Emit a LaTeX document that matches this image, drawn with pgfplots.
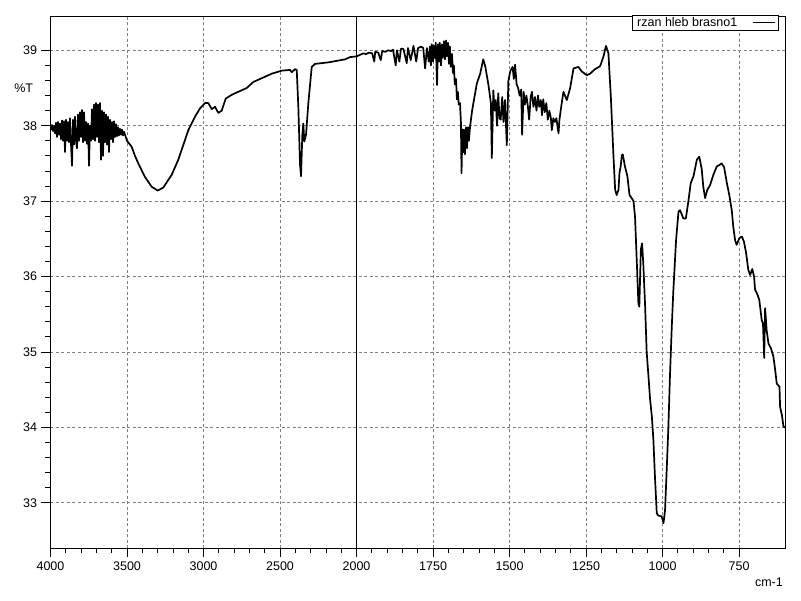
\documentclass[border=0pt]{standalone}
\usepackage{fontspec}
\setmainfont{Liberation Sans}
\usepackage{pgfplots}
\pgfplotsset{compat=1.18}
\begin{document}
\fontsize{12.5bp}{15bp}\selectfont
\begin{tikzpicture}
\useasboundingbox (-50.5bp,-53bp) rectangle (750.5bp,548bp);
\begin{axis}[
  at={(0,0)}, anchor=south west,
  scale only axis, width=734.5bp, height=532bp,
  xmin=0, xmax=2400, ymin=32.40, ymax=39.455,
  xtick={0,250,...,2250},
  xticklabels={4000,3500,3000,2500,2000,1750,1500,1250,1000,750},
  minor x tick num=4,
  ytick={33,34,...,39}, minor y tick num=4,
  tick align=outside, tick pos=left,
  major tick length=9bp, minor tick length=5bp,
  every tick/.style={black, line width=0.8bp},
  grid=major,
  major grid style={gray, line width=0.8bp, dash pattern=on 3bp off 2.5bp},
  axis line style={black, line width=0.8bp},
  /pgf/number format/assume math mode=true,
  tick label style={font=\fontsize{12.5bp}{15bp}\selectfont, black},
  xlabel={cm-1}, ylabel={\%T},
  every axis x label/.style={at={(axis description cs:1,0)}, anchor=north east, inner sep=0pt, yshift=-30bp, xshift=-2bp, font=\fontsize{12.5bp}{15bp}\selectfont},
  every axis y label/.style={at={(axis description cs:0,0.8647)}, anchor=center, xshift=-26.8bp, font=\fontsize{12.5bp}{15bp}\selectfont},
  legend plot pos=right,
  legend image code/.code={\draw[black, line width=0.8bp] (0bp,0bp) -- (22bp,0bp);},
  legend style={at={(axis description cs:1,1)}, anchor=north east, xshift=-6bp, yshift=1bp,
    draw=black, line width=0.8bp, inner xsep=3bp, inner ysep=0.5bp,
    font=\fontsize{12.5bp}{15bp}\selectfont,
    nodes={inner sep=1.5bp}, column sep=14bp},
  legend cell align=left,
]
\addplot[black, line width=0.8bp, forget plot] coordinates {(1000,32.40) (1000,39.455)};
\addplot[black, line width=1.7bp, line join=round] table {
u v
0 37.99
1.6 37.95
4.9 38.01
8.2 37.93
11.4 38.00
14.7 37.90
18.0 38.04
21.2 37.85
24.5 38.05
27.8 37.88
31.0 38.03
34.3 37.82
37.6 38.07
40.8 37.80
44.1 38.06
47.4 37.65
50.6 38.08
53.9 37.80
57.2 38.05
60.5 37.78
63.7 38.10
67.0 37.76
70.3 37.47
73.5 38.08
76.8 37.75
80.1 38.12
83.3 37.80
86.6 37.70
89.9 38.15
93.1 37.80
96.4 38.18
99.7 37.85
102.9 38.21
106.2 37.78
109.5 38.18
112.7 37.80
116.0 38.05
119.3 37.76
122.6 38.03
125.8 37.47
129.1 38.00
132.4 37.80
135.6 38.22
138.9 37.82
142.2 38.28
145.4 37.80
148.7 38.30
152.0 37.85
155.2 38.28
158.5 37.78
161.8 38.30
165.0 37.55
168.3 38.20
171.6 37.60
174.8 38.18
178.1 37.78
181.4 38.15
184.6 37.75
187.9 38.12
191.2 37.65
194.4 38.08
197.7 37.82
201.0 38.05
204.2 37.78
207.5 38.06
210.8 37.85
214.1 38.02
217.3 37.86
220.6 37.98
223.9 37.87
227.1 37.96
230.4 37.88
233.7 37.95
236.9 37.87
240.2 37.92
243.5 37.88
250.0 37.80
265.4 37.72
276.1 37.60
286.9 37.50
308.8 37.32
330.7 37.19
350.3 37.14
368.6 37.18
396.1 37.35
417.6 37.55
450.3 37.94
472.2 38.12
488.6 38.23
504.9 38.30
515.7 38.30
526.8 38.22
537.6 38.25
548.4 38.17
559.5 38.20
572.5 38.36
592.2 38.41
613.7 38.45
641.2 38.50
662.7 38.58
690.2 38.63
722.9 38.69
755.6 38.73
782.7 38.74
788.2 38.71
799.0 38.75
804.6 38.74
809.8 38.25
815.4 37.48
818.6 37.33
822.9 37.88
826.1 38.03
829.4 37.79
835.0 37.88
842.5 38.30
853.6 38.78
864.4 38.82
907.8 38.84
962.4 38.88
978.8 38.91
1000.7 38.92
1022.2 38.96
1031 38.95
1041 38.97
1051 38.96
1058 38.85
1061 38.98
1071 38.97
1079 38.87
1084 38.99
1093 38.98
1103 39.00
1113 38.99
1119 39.01
1128 38.80
1132 39.00
1140 38.85
1145 39.02
1153 39.02
1164 38.83
1168 39.03
1177 38.87
1186 39.06
1195 38.85
1201 39.03
1211 39.05
1218 39.03
1224 38.76
1230 39.03
1236 38.85
1240 39.05
1243 38.80
1246 39.08
1250 38.85
1253 39.06
1256 38.90
1259 39.10
1263 38.54
1266 39.08
1269 38.85
1272 39.10
1276 38.80
1279 39.08
1282 38.90
1286 39.12
1289 38.88
1292 39.13
1295 38.92
1299 39.10
1302 38.82
1305 39.05
1308 38.78
1312 38.95
1315 38.70
1318 38.80
1321 38.55
1325 38.62
1328 38.35
1331 38.45
1334 38.28
1338 38.30
1341 38.05
1343 37.37
1346 37.95
1349 37.65
1351 37.95
1354 37.62
1358 37.98
1361 37.70
1364 37.98
1367 37.80
1371 37.99
1378 38.21
1393 38.56
1404 38.69
1414 38.88
1421 38.78
1431 38.54
1439 38.30
1442 37.57
1447 38.47
1451 38.20
1455 38.34
1459 38.00
1463 38.43
1467 38.10
1471 38.08
1476 38.38
1480 38.05
1485 38.34
1491 37.74
1496 38.59
1502 38.72
1507 38.76
1510 38.78
1514 38.62
1518 38.81
1523 38.55
1528 38.50
1533 38.40
1538 38.48
1541 37.88
1546 38.45
1550 38.28
1555 38.40
1560 38.25
1564 38.08
1569 38.38
1573 38.45
1578 38.25
1583 38.38
1588 38.20
1593 38.40
1597 38.25
1602 38.34
1606 38.14
1610 38.35
1615 38.18
1620 38.30
1625 38.08
1630 38.20
1635 38.10
1638 37.94
1643 38.10
1648 38.05
1653 38.10
1657 37.98
1660 37.90
1663 38.08
1668 38.23
1676 38.45
1687 38.34
1698 38.50
1709 38.76
1725 38.78
1736 38.72
1752 38.67
1763 38.69
1779 38.75
1796 38.79
1807 38.92
1815 39.06
1823 38.96
1831 38.38
1839 37.64
1845 37.15
1850 37.08
1856 37.15
1859 37.37
1863 37.46
1867 37.61
1870 37.62
1877 37.46
1885 37.33
1892 37.08
1899 37.04
1905 37.00
1910 36.79
1916 36.17
1921 35.64
1924 35.60
1929 36.36
1933 36.44
1937 36.17
1943 35.60
1948 35.00
1954 34.67
1959 34.38
1965 34.14
1970 33.83
1975 33.35
1981 32.86
1986 32.83
1997 32.82
2003 32.73
2008 32.90
2013 33.39
2019 34.01
2024 34.67
2030 35.33
2035 35.80
2044 36.48
2052 36.86
2057 36.88
2068 36.77
2076 36.77
2084 36.99
2092 37.24
2101 37.33
2112 37.55
2120 37.59
2128 37.42
2133 37.19
2139 37.04
2146 37.15
2155 37.21
2166 37.35
2177 37.46
2186 37.48
2193 37.50
2201 37.45
2210 37.24
2218 37.08
2226 36.88
2231 36.66
2237 36.48
2242 36.42
2251 36.51
2259 36.53
2266 36.46
2273 36.31
2280 36.09
2286 36.02
2293 36.10
2299 36.00
2302 35.83
2310 35.76
2316 35.69
2324 35.42
2328 35.38
2332 34.92
2335 35.58
2340 35.29
2346 35.11
2354 35.05
2362 34.94
2368 34.76
2373 34.58
2382 34.54
2384 34.27
2390 34.16
2395 34.01
2400 34.00
};
\addlegendentry{rzan hleb brasno1}
\end{axis}
\end{tikzpicture}
\end{document}
